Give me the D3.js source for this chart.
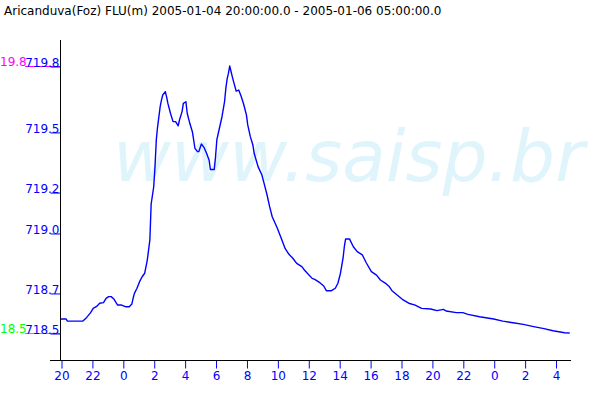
<!DOCTYPE html>
<html>
<head>
<meta charset="utf-8">
<script src="https://cdn.jsdelivr.net/npm/d3@7"></script>
<style>
  html, body { margin: 0; padding: 0; background: #fff; }
  svg { display: block; }
  text { font-family: "DejaVu Sans", Verdana, sans-serif; }
</style>
</head>
<body>
<svg id="chart" width="600" height="400"></svg>
<script>
const title = "Aricanduva(Foz) FLU(m) 2005-01-04 20:00:00.0 - 2005-01-06 05:00:00.0";
const watermark = "www.saisp.br";
const startTime = "2005-01-04 20:00";
const endTime = "2005-01-06 05:00";

const times = [
  "2005-01-04 20:00","2005-01-04 20:20","2005-01-04 20:25","2005-01-04 21:25","2005-01-04 21:40",
  "2005-01-04 21:55","2005-01-04 22:05","2005-01-04 22:20","2005-01-04 22:30","2005-01-04 22:45",
  "2005-01-04 22:55","2005-01-04 23:05","2005-01-04 23:15","2005-01-04 23:25","2005-01-04 23:35",
  "2005-01-04 23:40","2005-01-04 23:55",
  "2005-01-05 00:10","2005-01-05 00:25","2005-01-05 00:35","2005-01-05 00:40","2005-01-05 00:45",
  "2005-01-05 00:55","2005-01-05 01:05","2005-01-05 01:15","2005-01-05 01:25","2005-01-05 01:35",
  "2005-01-05 01:45","2005-01-05 01:50","2005-01-05 02:00","2005-01-05 02:05","2005-01-05 02:10",
  "2005-01-05 02:15","2005-01-05 02:25","2005-01-05 02:30","2005-01-05 02:35","2005-01-05 02:45",
  "2005-01-05 02:50","2005-01-05 02:55","2005-01-05 03:05","2005-01-05 03:15","2005-01-05 03:25",
  "2005-01-05 03:35","2005-01-05 03:40","2005-01-05 03:50","2005-01-05 03:55","2005-01-05 04:05",
  "2005-01-05 04:10","2005-01-05 04:20","2005-01-05 04:30","2005-01-05 04:35","2005-01-05 04:40",
  "2005-01-05 04:50","2005-01-05 04:55","2005-01-05 05:05","2005-01-05 05:15","2005-01-05 05:25",
  "2005-01-05 05:35","2005-01-05 05:40","2005-01-05 05:55","2005-01-05 06:00","2005-01-05 06:05",
  "2005-01-05 06:15","2005-01-05 06:25","2005-01-05 06:35","2005-01-05 06:40","2005-01-05 06:45",
  "2005-01-05 06:50","2005-01-05 06:55","2005-01-05 07:05","2005-01-05 07:10","2005-01-05 07:20",
  "2005-01-05 07:30","2005-01-05 07:40","2005-01-05 07:50","2005-01-05 08:00","2005-01-05 08:05",
  "2005-01-05 08:15","2005-01-05 08:25","2005-01-05 08:30","2005-01-05 08:45","2005-01-05 09:00",
  "2005-01-05 09:10","2005-01-05 09:20","2005-01-05 09:30","2005-01-05 09:40","2005-01-05 10:00",
  "2005-01-05 10:15","2005-01-05 10:30","2005-01-05 10:45","2005-01-05 11:00","2005-01-05 11:15",
  "2005-01-05 11:35","2005-01-05 11:45","2005-01-05 12:00","2005-01-05 12:15","2005-01-05 12:25",
  "2005-01-05 12:45","2005-01-05 13:00","2005-01-05 13:10","2005-01-05 13:30","2005-01-05 13:45",
  "2005-01-05 13:55","2005-01-05 14:05","2005-01-05 14:15","2005-01-05 14:20","2005-01-05 14:25",
  "2005-01-05 14:40","2005-01-05 14:55","2005-01-05 15:10","2005-01-05 15:30","2005-01-05 15:45",
  "2005-01-05 16:05","2005-01-05 16:25","2005-01-05 16:40","2005-01-05 17:00","2005-01-05 17:15",
  "2005-01-05 17:25","2005-01-05 17:45","2005-01-05 18:05","2005-01-05 18:30","2005-01-05 18:55",
  "2005-01-05 19:20","2005-01-05 19:55","2005-01-05 20:20","2005-01-05 20:45","2005-01-05 20:55",
  "2005-01-05 21:35","2005-01-05 22:00","2005-01-05 22:20","2005-01-05 23:05",
  "2005-01-06 00:00","2005-01-06 00:35","2005-01-06 01:15","2005-01-06 01:55","2005-01-06 02:35",
  "2005-01-06 03:15","2005-01-06 03:50","2005-01-06 04:35","2005-01-06 04:55"
];

const levels = [
  718.568,718.568,718.558,718.558,718.576,
  718.599,718.620,718.631,718.645,718.648,
  718.669,718.677,718.677,718.666,718.645,
  718.636,718.636,
  718.628,718.628,718.641,718.669,718.693,
  718.718,718.750,718.774,718.791,718.855,
  718.953,719.128,719.212,719.310,719.440,
  719.504,719.602,719.634,719.659,719.675,
  719.650,719.618,719.570,719.529,719.529,
  719.509,719.537,719.578,719.618,719.626,
  719.570,719.521,719.480,719.440,719.399,
  719.383,719.383,719.420,719.404,719.375,
  719.342,719.296,719.296,719.358,719.440,
  719.497,719.553,719.626,719.691,719.737,
  719.764,719.800,719.748,719.724,719.678,
  719.683,719.650,719.610,719.561,719.513,
  719.456,719.415,719.375,719.310,719.269,
  719.221,719.172,719.115,719.066,719.010,
  718.961,718.912,718.883,718.864,718.839,
  718.823,718.807,718.786,718.766,718.761,
  718.745,718.729,718.706,718.706,718.718,
  718.742,718.791,718.864,718.920,718.958,
  718.958,718.920,718.896,718.880,718.842,
  718.799,718.782,718.758,718.742,718.725,
  718.706,718.685,718.664,718.645,718.636,
  718.620,718.617,718.609,718.615,718.607,
  718.599,718.599,718.591,718.579,
  718.568,718.558,718.550,718.542,718.531,
  718.521,718.511,718.501,718.500
];

const yMin = 718.5;
const yMax = 719.8;
const yTickValues = [718.5, 718.695, 718.987, 719.186, 719.479, 719.8];
const yTickLabels = ["718.5", "718.7", "719.0", "719.2", "719.5", "719.8"];
const minLabel = "18.5";
const maxLabel = "19.8";

const parse = d3.timeParse("%Y-%m-%d %H:%M");
const data = times.map((t, i) => ({ t: parse(t), v: levels[i] }));

const svg = d3.select("#chart");
const BLUE = "#0000ff";

const x = d3.scaleTime().domain([parse(startTime), parse(endTime)]).range([61, 571]);
const y = d3.scaleLinear().domain([yMin, yMax]).range([333, 66]);

// title
svg.append("text").attr("x", 4).attr("y", 15)
  .attr("font-size", 12).attr("fill", "#000").text(title);

// watermark
svg.append("text").attr("x", 113).attr("y", 181)
  .attr("font-size", 71).attr("font-style", "italic")
  .attr("fill", "#e0f4fc").text(watermark);

// min / max reference marks
svg.append("line").attr("x1", 25).attr("x2", 60)
  .attr("y1", Math.round(y(yMax)) + 0.5).attr("y2", Math.round(y(yMax)) + 0.5)
  .attr("stroke", "#ff00ff");
svg.append("text").attr("x", 0).attr("y", y(yMax))
  .attr("font-size", 12).attr("fill", "#ff00ff").text(maxLabel);
svg.append("line").attr("x1", 25).attr("x2", 60)
  .attr("y1", Math.round(y(yMin)) + 0.5).attr("y2", Math.round(y(yMin)) + 0.5)
  .attr("stroke", "#00ff00");
svg.append("text").attr("x", 0).attr("y", y(yMin))
  .attr("font-size", 12).attr("fill", "#00ff00").text(minLabel);

// y axis
const yAxis = d3.axisLeft(y).tickValues(yTickValues)
  .tickFormat((d, i) => yTickLabels[i]).tickSize(10).tickPadding(0);
const gy = svg.append("g").attr("transform", "translate(60.5,0.5)").call(yAxis);
gy.select(".domain").remove();
gy.selectAll(".tick line").attr("stroke", BLUE);
gy.selectAll(".tick text").attr("fill", BLUE).attr("font-size", 12)
  .attr("font-family", "DejaVu Sans").attr("x", -1).attr("dy", "0");

// x axis
const xAxis = d3.axisBottom(x).ticks(d3.timeHour.every(2))
  .tickFormat(d3.timeFormat("%-H")).tickSize(8).tickPadding(3);
const gx = svg.append("g").attr("transform", "translate(0.5,360.5)").call(xAxis);
gx.select(".domain").remove();
gx.selectAll(".tick line").attr("stroke", BLUE);
gx.selectAll(".tick text").attr("fill", BLUE).attr("font-size", 12)
  .attr("font-family", "DejaVu Sans");

// axis lines
svg.append("line").attr("x1", 60.5).attr("x2", 60.5).attr("y1", 40).attr("y2", 360.5)
  .attr("stroke", "#000");
svg.append("line").attr("x1", 50).attr("x2", 571).attr("y1", 360.5).attr("y2", 360.5)
  .attr("stroke", "#000");

// data line
const line = d3.line().x(d => x(d.t)).y(d => y(d.v));
svg.append("path").datum(data).attr("d", line)
  .attr("fill", "none").attr("stroke", BLUE).attr("stroke-width", 1.4)
  .attr("stroke-linejoin", "round");
</script>
</body>
</html>
